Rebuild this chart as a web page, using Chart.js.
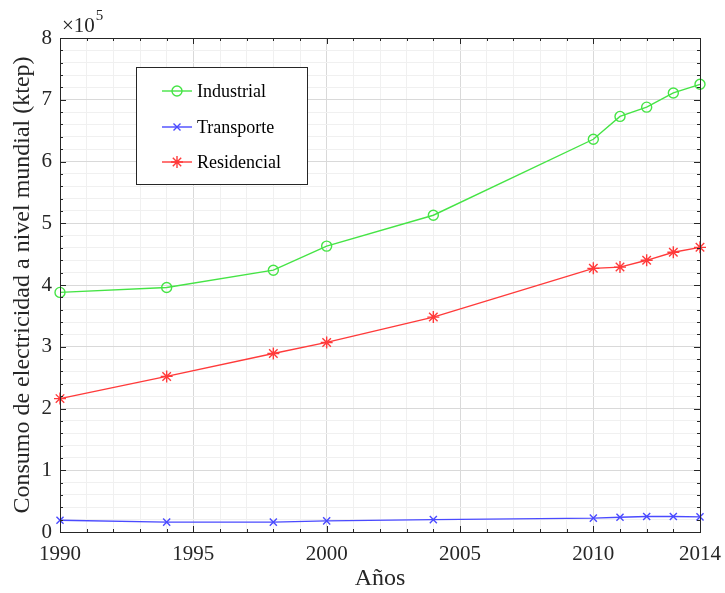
<!DOCTYPE html>
<html>
<head>
<meta charset="utf-8">
<script src="https://cdn.jsdelivr.net/npm/chart.js@4/dist/chart.umd.min.js"></script>
<style>
  html, body { margin: 0; padding: 0; background: #ffffff; }
  #wrap { width: 725px; height: 593px; position: relative; }
</style>
</head>
<body>
<div id="wrap"><canvas id="c"></canvas></div>
<script>
// Consumo mundial de electricidad por sector (ktep)
const years = [1990, 1994, 1998, 2000, 2004, 2010, 2011, 2012, 2013, 2014];
const industrial = [388000, 396000, 424000, 463000, 513000, 636000, 673000, 688000, 711000, 725000];
const transporte = [19000, 16000, 16000, 18000, 20000, 22500, 24000, 25000, 25000, 24500];
const residencial = [216000, 252000, 289000, 307000, 348000, 427000, 429000, 440000, 453000, 461000];
const xTickLabels = [1990, 1995, 2000, 2005, 2010, 2014];
const yTickLabels = [0, 1, 2, 3, 4, 5, 6, 7, 8];   // in units of 10^5
const yExponent = 5;

const FONT = '"Liberation Serif", "Times New Roman", serif';
const AXIS_COLOR = '#262626';

function series(label, values, color, pointStyle, radius) {
  return {
    label,
    data: years.map((y, i) => ({ x: y, y: values[i] })),
    borderColor: color,
    backgroundColor: 'rgba(0,0,0,0)',
    pointBorderColor: color,
    pointBackgroundColor: 'rgba(0,0,0,0)',
    pointStyle,
    pointRadius: radius,
    pointHoverRadius: radius,
    pointBorderWidth: 1.4,
    borderWidth: 1.4,
    tension: 0,
    clip: false
  };
}

const isMajorX = v => xTickLabels.includes(v);
const isMajorY = v => yTickLabels.some(t => Math.abs(t * Math.pow(10, yExponent) - v) < 1);

// Axes box, inward ticks, tick labels, exponent label and axis titles
const framePlugin = {
  id: 'frame',
  afterDraw(chart) {
    const { ctx, chartArea: a, scales } = chart;
    ctx.save();
    ctx.strokeStyle = AXIS_COLOR;
    ctx.lineWidth = 1;
    ctx.strokeRect(Math.round(a.left) + 0.5, Math.round(a.top) + 0.5,
                   Math.round(a.right - a.left), Math.round(a.bottom - a.top));
    ctx.beginPath();
    scales.x.ticks.forEach(t => {
      const px = Math.round(scales.x.getPixelForValue(t.value)) + 0.5;
      const len = isMajorX(t.value) ? 6 : 3;
      ctx.moveTo(px, a.bottom); ctx.lineTo(px, a.bottom - len);
      ctx.moveTo(px, a.top); ctx.lineTo(px, a.top + len);
    });
    scales.y.ticks.forEach(t => {
      const py = Math.round(scales.y.getPixelForValue(t.value)) + 0.5;
      const len = isMajorY(t.value) ? 6 : 3;
      ctx.moveTo(a.left, py); ctx.lineTo(a.left + len, py);
      ctx.moveTo(a.right, py); ctx.lineTo(a.right - len, py);
    });
    ctx.stroke();

    // tick labels
    ctx.fillStyle = AXIS_COLOR;
    ctx.font = '21px ' + FONT;
    ctx.textBaseline = 'middle';
    ctx.textAlign = 'center';
    scales.x.ticks.forEach(t => {
      if (!isMajorX(t.value)) return;
      ctx.fillText(String(t.value), scales.x.getPixelForValue(t.value), a.bottom + 22);
    });
    ctx.textAlign = 'right';
    scales.y.ticks.forEach(t => {
      if (!isMajorY(t.value)) return;
      ctx.fillText(String(Math.round(t.value / Math.pow(10, yExponent))),
                   a.left - 8, scales.y.getPixelForValue(t.value));
    });

    // exponent
    ctx.textBaseline = 'alphabetic';
    ctx.textAlign = 'left';
    ctx.font = '21px ' + FONT;
    const base = '\u00d710';
    ctx.fillText(base, a.left + 2, a.top - 6);
    const w = ctx.measureText(base).width;
    ctx.font = '15px ' + FONT;
    ctx.fillText(String(yExponent), a.left + 3 + w, a.top - 18);

    // axis titles
    ctx.font = '24px ' + FONT;
    ctx.textBaseline = 'middle';
    ctx.textAlign = 'center';
    ctx.fillText('A\u00f1os', (a.left + a.right) / 2, 579);
    ctx.save();
    ctx.translate(23, (a.top + a.bottom) / 2);
    ctx.rotate(-Math.PI / 2);
    ctx.fillText('Consumo de electricidad a nivel mundial (ktep)', 0, 0);
    ctx.restore();
    ctx.restore();
  }
};

function drawMarker(ctx, style, x, y, r) {
  ctx.beginPath();
  if (style === 'circle') {
    ctx.arc(x, y, r, 0, Math.PI * 2);
  } else if (style === 'crossRot') {
    ctx.moveTo(x - r * 0.7, y - r * 0.7); ctx.lineTo(x + r * 0.7, y + r * 0.7);
    ctx.moveTo(x + r * 0.7, y - r * 0.7); ctx.lineTo(x - r * 0.7, y + r * 0.7);
  } else if (style === 'star') {
    ctx.moveTo(x - r, y); ctx.lineTo(x + r, y);
    ctx.moveTo(x, y - r); ctx.lineTo(x, y + r);
    ctx.moveTo(x - r * 0.7, y - r * 0.7); ctx.lineTo(x + r * 0.7, y + r * 0.7);
    ctx.moveTo(x + r * 0.7, y - r * 0.7); ctx.lineTo(x - r * 0.7, y + r * 0.7);
  }
  ctx.stroke();
}

// Boxed legend inside the plot area
const boxLegendPlugin = {
  id: 'boxLegend',
  afterDraw(chart) {
    const { ctx } = chart;
    const bx = 136.5, by = 67.5, bw = 171, bh = 117;
    ctx.save();
    ctx.fillStyle = '#ffffff';
    ctx.fillRect(bx, by, bw, bh);
    ctx.strokeStyle = AXIS_COLOR;
    ctx.lineWidth = 1;
    ctx.strokeRect(bx, by, bw, bh);
    const rows = [91, 127, 162];
    chart.data.datasets.forEach((ds, i) => {
      const y = rows[i];
      ctx.strokeStyle = ds.borderColor;
      ctx.lineWidth = ds.borderWidth;
      ctx.beginPath();
      ctx.moveTo(162, y); ctx.lineTo(192, y);
      ctx.stroke();
      ctx.lineWidth = ds.pointBorderWidth;
      drawMarker(ctx, ds.pointStyle, 177, y, ds.pointRadius);
      ctx.fillStyle = '#000000';
      ctx.font = '18px ' + FONT;
      ctx.textAlign = 'left';
      ctx.textBaseline = 'middle';
      ctx.fillText(ds.label, 197, y + 1);
    });
    ctx.restore();
  }
};

new Chart(document.getElementById('c'), {
  type: 'line',
  data: {
    datasets: [
      series('Industrial', industrial, '#45e445', 'circle', 5),
      series('Transporte', transporte, '#4a4aff', 'crossRot', 5),
      series('Residencial', residencial, '#ff3a3a', 'star', 6)
    ]
  },
  options: {
    responsive: true,
    maintainAspectRatio: false,
    animation: false,
    layout: { padding: { top: 38, right: 25, left: 0, bottom: 0 } },
    plugins: {
      legend: { display: false },
      tooltip: { enabled: false }
    },
    scales: {
      x: {
        type: 'linear',
        min: years[0],
        max: years[years.length - 1],
        afterFit(scale) { scale.height = 61; },
        border: { display: false },
        grid: {
          drawTicks: false,
          color: c => isMajorX(c.tick.value) ? '#d9d9d9' : '#f0f0f0',
          lineWidth: 1
        },
        ticks: {
          display: false,
          stepSize: 1,
          autoSkip: false,
          maxRotation: 0
        }
      },
      y: {
        type: 'linear',
        min: 0,
        max: yTickLabels[yTickLabels.length - 1] * Math.pow(10, yExponent),
        afterFit(scale) { scale.width = 60; },
        border: { display: false },
        grid: {
          drawTicks: false,
          color: c => isMajorY(c.tick.value) ? '#d9d9d9' : '#f0f0f0',
          lineWidth: 1
        },
        ticks: {
          display: false,
          stepSize: 20000,
          autoSkip: false
        }
      }
    }
  },
  plugins: [framePlugin, boxLegendPlugin]
});
</script>
</body>
</html>
